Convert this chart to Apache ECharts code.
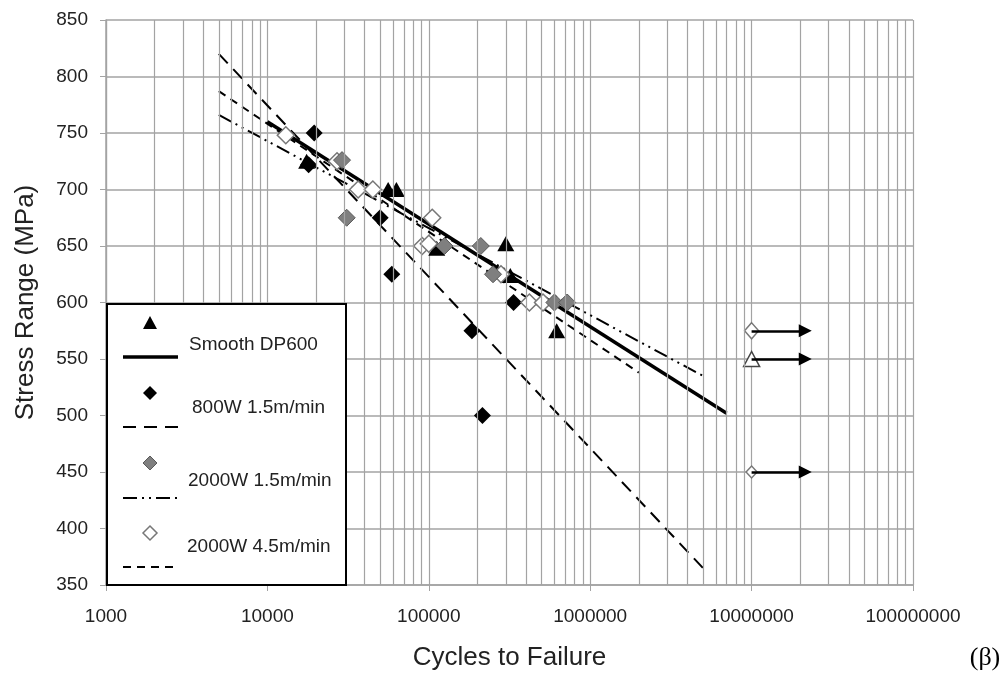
<!DOCTYPE html>
<html>
<head>
<meta charset="utf-8">
<script src="https://cdn.jsdelivr.net/npm/echarts@6/dist/echarts.min.js"></script>
<style>
  html, body { margin: 0; padding: 0; background: #fff; }
  #main { width: 1006px; height: 683px; }
</style>
</head>
<body>
<div id="main"></div>
<script>
// axis ticks
var xTicks = [1000, 10000, 100000, 1000000, 10000000, 100000000];
var yMin = 350, yMax = 850, yStep = 50;

// test points (cycles, stress range)
var smoothPts = [[17500, 725], [56000, 700], [63000, 700], [112000, 648], [300000, 652], [320000, 624], [620000, 575]];
var w800Pts = [[19500, 750], [18000, 722], [50000, 675], [59000, 625], [185000, 575], [215000, 500], [335000, 600]];
var w2000slowPts = [[29000, 726], [31000, 675], [125000, 650], [210000, 650], [250000, 625], [600000, 600], [720000, 600]];
var w2000fastPts = [[13000, 748], [27000, 725], [36500, 700], [45000, 700], [105000, 675], [91000, 650], [100000, 652], [280000, 625], [420000, 600], [510000, 600]];

// fitted lines
var smoothFit = [[10000, 760], [7000000, 502]];
var w800Fit = [[5000, 820], [5000000, 365]];
var w2000slowFit = [[5000, 766], [5000000, 535]];
var w2000fastFit = [[5000, 787], [2000000, 538]];

// run-outs
var runoutDiamond = [[10000000, 575]];
var runoutTriangle = [[10000000, 550]];
var runoutSmall = [[10000000, 450]];
var runoutEnd = 21500000;

// minor grid lines 2..9 in every decade
var minorX = [];
for (var d = 1000; d < 100000000; d *= 10) {
  for (var k = 2; k <= 9; k++) minorX.push(k * d);
}

var gridColor = '#a3a3a3';
var font = 'Liberation Sans, Arial, sans-serif';

var chart = echarts.init(document.getElementById('main'));

function fitLine(data, type, width) {
  return {
    type: 'line', data: data, symbol: 'none', silent: true, z: 2,
    lineStyle: { color: '#000', width: width, type: type }
  };
}
function pts(data, symbol, size, fill, border, bw) {
  return {
    type: 'scatter', data: data, symbol: symbol, symbolSize: size, z: 4,
    itemStyle: { color: fill, borderColor: border, borderWidth: bw, opacity: 1 }
  };
}
function arrow(src) {
  return {
    type: 'line', data: [], z: 3, silent: true,
    markLine: {
      silent: true, animation: false,
      symbol: ['none', 'triangle'], symbolSize: 13,
      label: { show: false },
      lineStyle: { color: '#000', width: 2.5, type: 'solid' },
      data: src.map(function (p) { return [{ coord: p }, { coord: [runoutEnd, p[1]] }]; })
    }
  };
}

// legend drawing helpers
function diamondPts(cx, cy, r) { return [[cx, cy - r], [cx + r, cy], [cx, cy + r], [cx - r, cy]]; }
var lgX1 = 123, lgX2 = 178;
var lgFont = '19px ' + font;
var legendItems = [
  { type: 'rect', shape: { x: 107, y: 304, width: 239, height: 281 }, style: { fill: '#fff', stroke: '#000', lineWidth: 2 } },
  { type: 'polygon', shape: { points: [[150, 316], [157, 329], [143, 329]] }, style: { fill: '#000' } },
  { type: 'line', shape: { x1: lgX1, y1: 357, x2: lgX2, y2: 357 }, style: { stroke: '#000', lineWidth: 3.5 } },
  { type: 'text', x: 189, y: 345, style: { text: 'Smooth DP600', font: lgFont, fill: '#222', verticalAlign: 'middle' } },
  { type: 'polygon', shape: { points: diamondPts(150, 393, 7) }, style: { fill: '#000' } },
  { type: 'line', shape: { x1: lgX1, y1: 427, x2: lgX2, y2: 427 }, style: { stroke: '#000', lineWidth: 2, lineDash: [13, 8] } },
  { type: 'text', x: 192, y: 408, style: { text: '800W 1.5m/min', font: lgFont, fill: '#222', verticalAlign: 'middle' } },
  { type: 'polygon', shape: { points: diamondPts(150, 463, 7) }, style: { fill: '#7f7f7f', stroke: '#5a5a5a', lineWidth: 1 } },
  { type: 'line', shape: { x1: lgX1, y1: 498, x2: lgX2, y2: 498 }, style: { stroke: '#000', lineWidth: 2, lineDash: [14, 5, 2, 5, 2, 5] } },
  { type: 'text', x: 188, y: 481, style: { text: '2000W 1.5m/min', font: lgFont, fill: '#222', verticalAlign: 'middle' } },
  { type: 'polygon', shape: { points: diamondPts(150, 533, 7) }, style: { fill: '#fff', stroke: '#777', lineWidth: 1.5 } },
  { type: 'line', shape: { x1: lgX1, y1: 567, x2: 173, y2: 567 }, style: { stroke: '#000', lineWidth: 2, lineDash: [8, 6] } },
  { type: 'text', x: 187, y: 547, style: { text: '2000W 4.5m/min', font: lgFont, fill: '#222', verticalAlign: 'middle' } }
].map(function (el) { el.z = 100; return el; });
legendItems.push({ type: 'text', x: 985, y: 658, z: 100, style: { text: '(β)', font: '26px Liberation Serif, Times New Roman, serif', fill: '#000', align: 'center', verticalAlign: 'middle' } });

var option = {
  animation: false,
  backgroundColor: '#fff',
  grid: { left: 106, top: 20, right: 93, bottom: 98 },
  xAxis: {
    type: 'log', logBase: 10, min: xTicks[0], max: xTicks[xTicks.length - 1],
    name: 'Cycles to Failure', nameLocation: 'middle', nameGap: 60,
    nameTextStyle: { fontSize: 26, fontFamily: font, color: '#222' },
    axisLine: { lineStyle: { color: gridColor, width: 1.5 } },
    axisTick: { show: true, length: 6, lineStyle: { color: gridColor } },
    axisLabel: {
      fontSize: 19, fontFamily: font, color: '#222', margin: 22,
      formatter: function (v) { return String(Math.round(v)); }
    },
    splitLine: { show: true, lineStyle: { color: gridColor, width: 1.2 } }
  },
  yAxis: {
    type: 'value', min: yMin, max: yMax, interval: yStep,
    name: 'Stress Range (MPa)', nameLocation: 'middle', nameGap: 67,
    nameTextStyle: { fontSize: 26, fontFamily: font, color: '#222' },
    axisLine: { show: true, lineStyle: { color: gridColor, width: 1.5 } },
    axisTick: { show: true, length: 6, lineStyle: { color: gridColor } },
    axisLabel: { fontSize: 19, fontFamily: font, color: '#222', margin: 18 },
    splitLine: { show: true, lineStyle: { color: gridColor, width: 1.5 } }
  },
  graphic: legendItems,
  series: [
    {
      type: 'line', data: [], silent: true, z: 1,
      markLine: {
        silent: true, animation: false, symbol: ['none', 'none'],
        label: { show: false },
        lineStyle: { color: gridColor, width: 1.2, type: 'solid' },
        data: minorX.map(function (v) { return { xAxis: v }; })
      }
    },
    fitLine(smoothFit, 'solid', 3.5),
    fitLine(w800Fit, [13, 8], 2),
    fitLine(w2000slowFit, [14, 5, 2, 5, 2, 5], 2),
    fitLine(w2000fastFit, [8, 6], 2),
    arrow(runoutDiamond.concat(runoutTriangle, runoutSmall)),
    pts(smoothPts, 'triangle', [17, 15], '#000', '#000', 0),
    pts(w800Pts, 'diamond', [17, 17], '#000', '#000', 0),
    pts(w2000fastPts, 'diamond', [17, 17], '#fff', '#777', 1.5),
    pts(w2000slowPts, 'diamond', [17, 17], '#7f7f7f', '#5a5a5a', 1),
    pts(runoutDiamond, 'diamond', [14, 16], '#fff', '#777', 1.5),
    pts(runoutTriangle, 'triangle', [16, 15], '#fff', '#444', 1.5),
    pts(runoutSmall, 'diamond', [11, 12], '#fff', '#777', 1.5)
  ]
};
chart.setOption(option);
</script>
</body>
</html>
